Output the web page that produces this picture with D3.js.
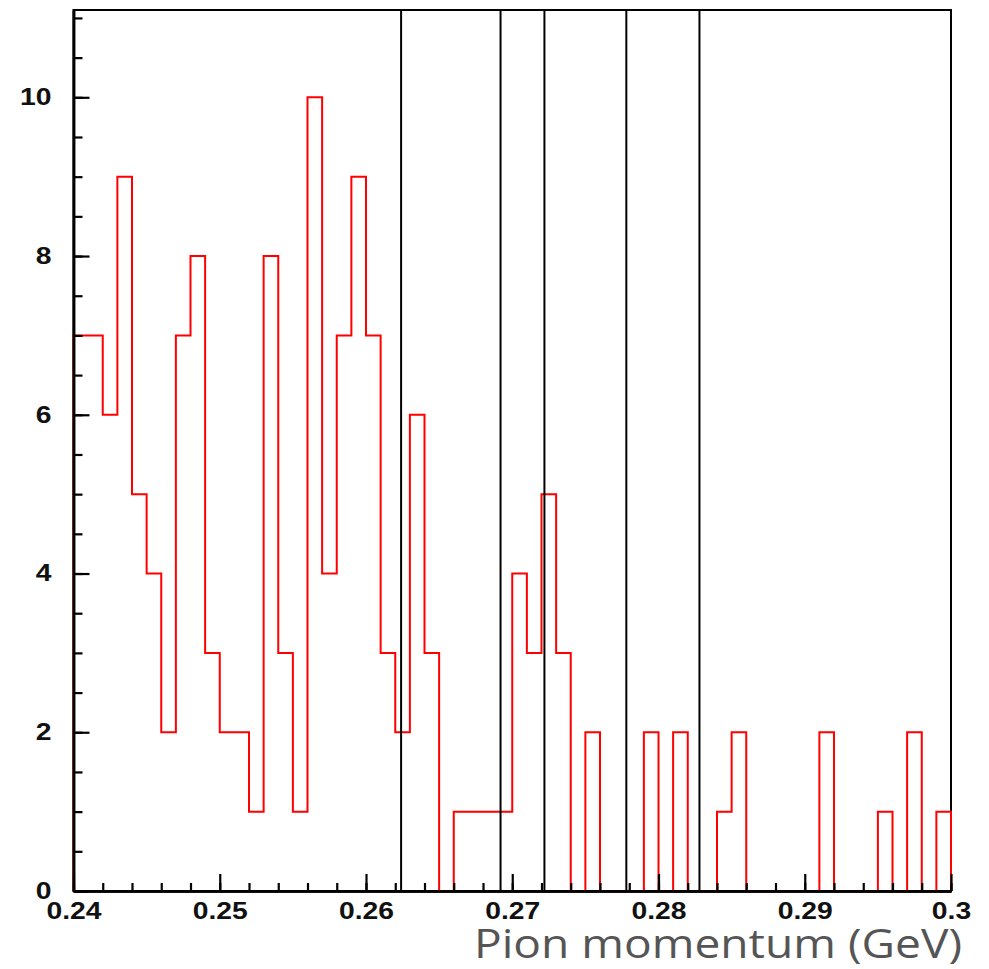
<!DOCTYPE html>
<html>
<head>
<meta charset="utf-8">
<script src="https://cdnjs.cloudflare.com/ajax/libs/d3/7.8.5/d3.min.js"></script>
<style>
  html, body { margin: 0; padding: 0; background: #fff; }
  svg { display: block; }
</style>
</head>
<body>
<div id="chart"></div>
<script>
// histogram of pion momentum, 60 bins of 0.001 GeV from 0.24 to 0.30
var binStart = 0.24;
var binWidth = 0.001;
var counts = [
  7, 7, 6, 9, 5, 4, 2, 7, 8, 3,
  2, 2, 1, 8, 3, 1, 10, 4, 7, 9,
  7, 3, 2, 6, 3, 0, 1, 1, 1, 1,
  4, 3, 5, 3, 0, 2, 0, 0, 0, 2,
  0, 2, 0, 0, 1, 2, 0, 0, 0, 0,
  0, 2, 0, 0, 0, 1, 0, 2, 0, 1
];
// vertical marker lines (GeV)
var markers = [0.2624, 0.2692, 0.2722, 0.2778, 0.2828];
var xTicks = [0.24, 0.25, 0.26, 0.27, 0.28, 0.29, 0.3];
var xMinor = d3.range(0, 31).map(function(i){ return 0.24 + i * 0.002; });
var yTicks = [0, 2, 4, 6, 8, 10];
var yMinor = d3.range(0, 23).map(function(i){ return i * 0.5; });
var xDomain = [0.24, 0.30];
var yDomain = [0, 11.1];
var xTitle = 'Pion momentum (GeV)';

(function(){
  var W = 989, H = 969;
  var m = { left: 73.5, right: 951, top: 10, bottom: 891 };
  var stretch = 1.23; // labels in the picture are a bit wide

  var svg = d3.select('#chart').append('svg')
    .attr('width', W).attr('height', H);

  var x = d3.scaleLinear().domain(xDomain).range([m.left, m.right]);
  var y = d3.scaleLinear().domain(yDomain).range([m.bottom, m.top]);

  // frame
  svg.append('rect')
    .attr('x', m.left).attr('y', m.top)
    .attr('width', m.right - m.left).attr('height', m.bottom - m.top)
    .attr('fill', 'none').attr('stroke', '#000').attr('stroke-width', 2);

  // histogram outline
  var path = d3.path();
  path.moveTo(x(binStart), y(0));
  counts.forEach(function(c, i){
    var x0 = x(binStart + i * binWidth), x1 = x(binStart + (i + 1) * binWidth);
    path.lineTo(x0, y(c));
    path.lineTo(x1, y(c));
  });
  path.lineTo(x(binStart + counts.length * binWidth), y(0));

  svg.append('path')
    .attr('d', path.toString())
    .attr('fill', 'none')
    .attr('stroke', '#ff0000')
    .attr('stroke-width', 2);

  function styleAxis(g){
    g.select('.domain').attr('stroke', '#000').attr('stroke-width', 2.5);
    g.selectAll('.tick line').attr('stroke', '#000').attr('stroke-width', 2.2);
    g.selectAll('.tick text')
      .attr('fill', '#111')
      .style('font-family', '"Liberation Sans", Arial, sans-serif')
      .style('font-weight', 'bold')
      .style('font-size', '23px');
  }

  // minor ticks
  svg.append('g')
    .attr('transform', 'translate(0,' + m.bottom + ')')
    .call(d3.axisBottom(x).tickValues(xMinor).tickFormat('').tickSizeInner(-8).tickSizeOuter(0))
    .call(styleAxis);
  svg.append('g')
    .attr('transform', 'translate(' + m.left + ',0)')
    .call(d3.axisLeft(y).tickValues(yMinor).tickFormat('').tickSizeInner(-9).tickSizeOuter(0))
    .call(styleAxis);

  // major ticks + labels
  var gx = svg.append('g')
    .attr('transform', 'translate(0,' + m.bottom + ')')
    .call(d3.axisBottom(x).tickValues(xTicks).tickFormat(d3.format('')).tickSizeInner(-17).tickSizeOuter(0).tickPadding(12))
    .call(styleAxis);
  gx.selectAll('.tick text').attr('transform', 'scale(' + stretch + ',1)');

  var gy = svg.append('g')
    .attr('transform', 'translate(' + m.left + ',0)')
    .call(d3.axisLeft(y).tickValues(yTicks).tickFormat(d3.format('d')).tickSizeInner(-16).tickSizeOuter(0).tickPadding(22))
    .call(styleAxis);
  gy.selectAll('.tick text')
    .attr('x', -22 / stretch)
    .attr('transform', 'scale(' + stretch + ',1)');

  // marker lines
  svg.append('g').selectAll('line')
    .data(markers)
    .join('line')
    .attr('x1', function(d){ return x(d); })
    .attr('x2', function(d){ return x(d); })
    .attr('y1', m.top).attr('y2', m.bottom)
    .attr('stroke', '#000').attr('stroke-width', 2);

  // axis title
  svg.append('text')
    .attr('x', 474).attr('y', 958)
    .attr('textLength', 488)
    .attr('lengthAdjust', 'spacingAndGlyphs')
    .attr('fill', '#555')
    .style('font-family', '"Open Sans", Roboto, sans-serif')
    .style('font-size', '40px')
    .text(xTitle);
})();
</script>
</body>
</html>
